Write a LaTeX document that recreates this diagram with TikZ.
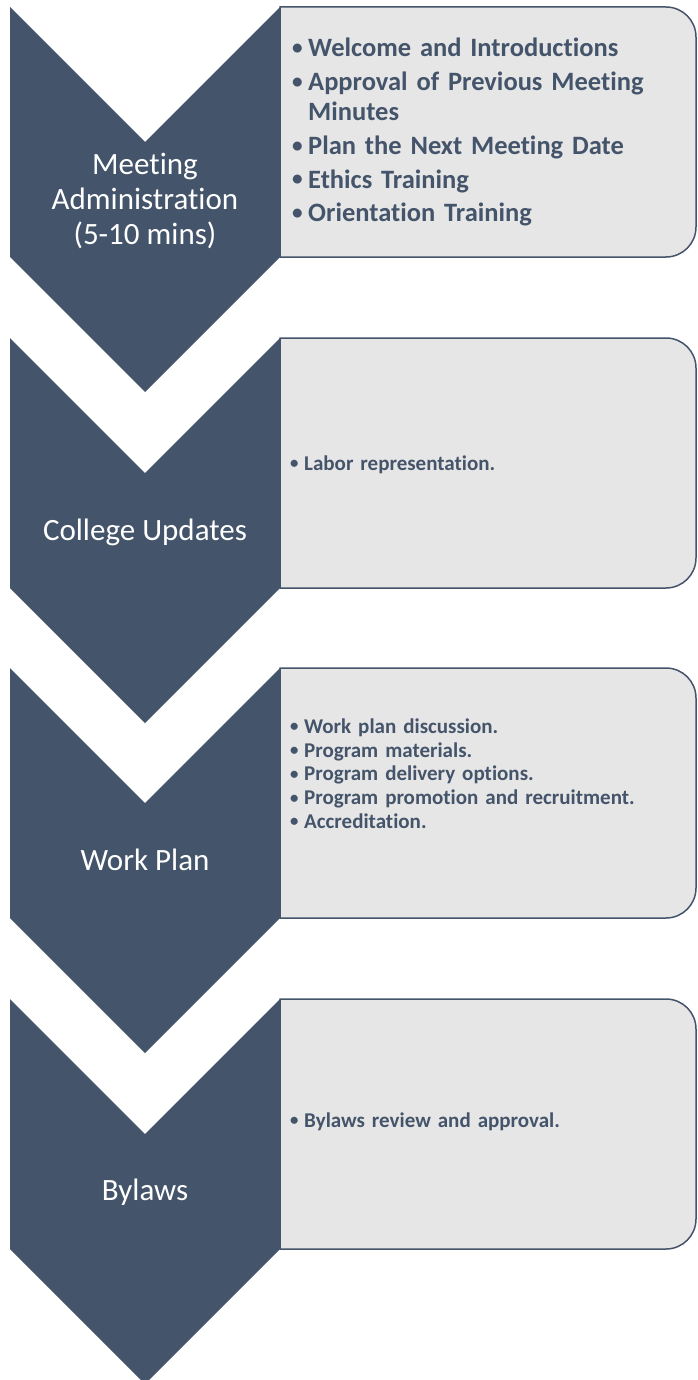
\documentclass[tikz,border=0pt]{standalone}
\usepackage{fontspec}
\setmainfont{Carlito}[Ligatures=NoCommon]
\definecolor{dk}{HTML}{44546A}
\definecolor{lt}{HTML}{E7E6E6}
\newlength\bulw
\newcommand\bitem[1]{\hangindent=\bulw\hangafter=1\noindent\makebox[\bulw][l]{\raisebox{0.08em}{\scalebox{0.8}{•}}}#1\par}
\begin{document}
\begin{tikzpicture}[x=1pt,y=-1pt,
  chev/.style={fill=dk},
  panel/.style={fill=lt,draw=dk,line width=1.5pt},
  chevtext/.style={text=white,font=\fontsize{31}{35}\selectfont,align=center,inner sep=0pt},
  bigitems/.style={text=dk,font=\fontsize{26.5}{30}\selectfont\bfseries,text width=390pt,align=left,inner sep=0pt,anchor=north west},
  smallitems/.style={text=dk,font=\fontsize{21}{23.75}\selectfont\bfseries,text width=400pt,align=left,inner sep=0pt,anchor=north west}]
\useasboundingbox (0,0) rectangle (697,1380);
\foreach \T in {7,338,668,999}{
  \path[panel] (280,\T) -- (666,\T) .. controls (682.6,\T) and (696,\T+13.4) .. (696,\T+30)
     -- (696,\T+220) .. controls (696,\T+236.6) and (682.6,\T+250) .. (666,\T+250)
     -- (280,\T+250) -- cycle;
  \path[chev] (10,\T) -- (145,\T+135) -- (280,\T) -- (280,\T+250) -- (145,\T+385) -- (10,\T+250) -- cycle;
}
\node[chevtext] (c1) at (145,201) {Meeting\\Administration\\(5-10 mins)};
\node[chevtext,anchor=base] (c2) at (145,540) {College Updates};
\node[chevtext,anchor=base] (c3) at (145,870) {Work Plan};
\node[chevtext,anchor=base] (c4) at (145,1200) {Bylaws};
\node[bigitems] (t1) at (292,38) {\setlength\bulw{16pt}\setlength\parskip{3.75pt}%
  \bitem{Welcome and Introductions}%
  \bitem{Approval of Previous Meeting Minutes}%
  \bitem{Plan the Next Meeting Date}%
  \bitem{Ethics Training}%
  \bitem{Orientation Training}};
\node[smallitems,anchor=base west] (t2) at (290,470) {\setlength\bulw{14pt}\bitem{Labor representation.}};
\node[smallitems] (t3) at (290,718.5) {\setlength\bulw{14pt}%
  \bitem{Work plan discussion.}%
  \bitem{Program materials.}%
  \bitem{Program delivery options.}%
  \bitem{Program promotion and recruitment.}%
  \bitem{Accreditation.}};
\node[smallitems,anchor=base west] (t4) at (290,1127) {\setlength\bulw{14pt}\bitem{Bylaws review and approval.}};
\end{tikzpicture}
\end{document}
